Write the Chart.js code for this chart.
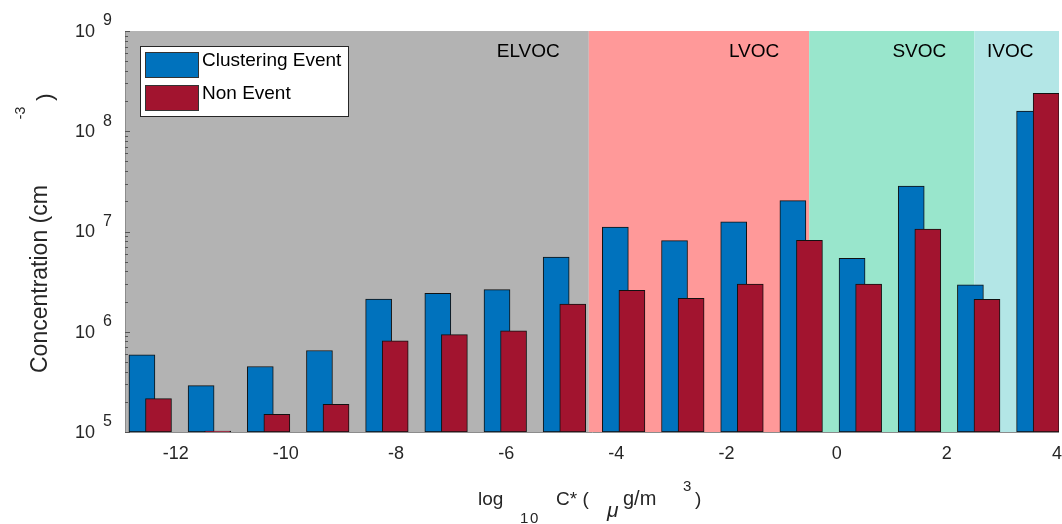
<!DOCTYPE html>
<html>
<head>
<meta charset="utf-8">
<script src="https://cdn.jsdelivr.net/npm/chart.js@4/dist/chart.umd.min.js"></script>
<style>
  html, body { margin: 0; padding: 0; background: #fff; }
  #wrap { width: 1062px; height: 524px; position: relative; }
</style>
</head>
<body>
<div id="wrap"><canvas id="chart"></canvas></div>
<script>
// Volatility bins (bar groups) and the two series
const bins = [1, 2, 3, 4, 5, 6, 7, 8, 9, 10, 11, 12, 13, 14, 15, 16];
const clusteringEvent = [5.9e5, 2.9e5, 4.5e5, 6.5e5, 2.12e6, 2.42e6, 2.63e6, 5.57e6,
                         1.11e7, 8.1e6, 1.25e7, 2.03e7, 5.4e6, 2.84e7, 2.93e6, 1.59e8];
const nonEvent = [2.15e5, 1.02e5, 1.5e5, 1.89e5, 8.1e5, 9.35e5, 1.02e6, 1.89e6,
                  2.59e6, 2.16e6, 2.99e6, 8.17e6, 2.99e6, 1.06e7, 2.11e6, 2.39e8];
const seriesNames = ['Clustering Event', 'Non Event'];

// Axis ticks
const xTickLabels = [-12, -10, -8, -6, -4, -2, 0, 2, 4];
const yTickExponents = [5, 6, 7, 8, 9];

// Volatility classes shaded behind the bars (log10 C* boundaries)
const regionNames = ['ELVOC', 'LVOC', 'SVOC', 'IVOC'];
const regionEdges = [-4.5, -0.5, 2.5];
const regionLabelAt = [-5.6, -1.5, 1.5, 3.15];

const regionColors = ['#b3b3b3', '#ff9999', '#99e6cc', '#b3e6e6'];
const seriesColors = ['#0072bd', '#a2142f'];
const TEXT = '#262626';
const FONT = "'Liberation Sans', Arial, sans-serif";
const BAR_SHIFT = 0.14;

function drawSup(ctx, base, sup, x, y, baseSize, supSize, gap, rise) {
    ctx.font = baseSize + 'px ' + FONT;
    ctx.textAlign = 'right';
    ctx.textBaseline = 'middle';
    ctx.fillText(base, x, y);
    ctx.font = supSize + 'px ' + FONT;
    ctx.textAlign = 'left';
    ctx.fillText(sup, x + gap, y - rise);
}

const backdrop = {
    id: 'backdrop',
    beforeDatasetsDraw(chart) {
        const { ctx, chartArea: a } = chart;
        const xc = chart.scales.xc;
        const edges = [a.left].concat(regionEdges.map(v => xc.getPixelForValue(v)), [a.right]);
        ctx.save();
        regionNames.forEach((name, i) => {
            ctx.fillStyle = regionColors[i];
            ctx.fillRect(edges[i], a.top, edges[i + 1] - edges[i], a.bottom - a.top);
        });
        ctx.fillStyle = '#000';
        ctx.font = '19px ' + FONT;
        ctx.textAlign = 'center';
        ctx.textBaseline = 'middle';
        regionNames.forEach((name, i) => {
            ctx.fillText(name, xc.getPixelForValue(regionLabelAt[i]), 52);
        });
        ctx.restore();
    }
};

const decorations = {
    id: 'decorations',
    afterDraw(chart) {
        const { ctx, chartArea: a } = chart;
        const xc = chart.scales.xc;
        const y = chart.scales.y;
        ctx.save();

        // axis lines
        ctx.strokeStyle = '#8c8c8c';
        ctx.lineWidth = 1;
        ctx.beginPath();
        ctx.moveTo(a.left + 0.5, a.top);
        ctx.lineTo(a.left + 0.5, a.bottom + 0.5);
        ctx.lineTo(a.right, a.bottom + 0.5);
        ctx.stroke();

        // minor ticks on the log axis
        ctx.strokeStyle = '#555';
        ctx.beginPath();
        for (let e = 5; e < 9; e++) {
            for (let m = 1; m <= 10; m++) {
                const py = Math.round(y.getPixelForValue(m * Math.pow(10, e))) + 0.5;
                const len = (m === 1 || m === 10) ? 5 : 3;
                ctx.moveTo(a.left, py);
                ctx.lineTo(a.left + len, py);
            }
        }
        ctx.stroke();

        // y tick labels 10^n
        ctx.fillStyle = TEXT;
        yTickExponents.forEach(e => {
            const py = y.getPixelForValue(Math.pow(10, e));
            drawSup(ctx, '10', String(e), 95, py + 1, 18, 16, 8, 11);
        });

        // x tick labels
        ctx.font = '18px ' + FONT;
        ctx.textAlign = 'center';
        ctx.textBaseline = 'middle';
        xTickLabels.forEach(v => {
            ctx.fillText(String(v), xc.getPixelForValue(v), 454);
        });

        // x title: log10 C* (µg/m3)
        ctx.textAlign = 'left';
        ctx.textBaseline = 'alphabetic';
        ctx.font = '19px ' + FONT;
        ctx.fillText('log', 478, 505);
        ctx.font = '15px ' + FONT;
        ctx.fillText('1', 520, 523);
        ctx.fillText('0', 530, 523);
        ctx.font = '19px ' + FONT;
        ctx.fillText('C* (', 556, 505);
        ctx.font = 'italic 21px ' + FONT;
        ctx.fillText('\u03bc', 607, 517);
        ctx.font = '20px ' + FONT;
        ctx.fillText('g/m', 623, 505);
        ctx.font = '15px ' + FONT;
        ctx.fillText('3', 683, 491);
        ctx.font = '19px ' + FONT;
        ctx.fillText(')', 695, 505);

        // y title: Concentration (cm-3)
        ctx.save();
        ctx.translate(47, 373);
        ctx.rotate(-Math.PI / 2);
        ctx.font = '23px ' + FONT;
        ctx.textAlign = 'left';
        ctx.textBaseline = 'alphabetic';
        ctx.fillText('Concentration (cm', 0, 0);
        ctx.restore();
        ctx.save();
        ctx.translate(21, 113);
        ctx.rotate(-Math.PI / 2);
        ctx.font = '14px ' + FONT;
        ctx.textAlign = 'center';
        ctx.textBaseline = 'middle';
        ctx.fillText('-3', 0, 0);
        ctx.restore();
        ctx.save();
        ctx.translate(46, 97);
        ctx.rotate(-Math.PI / 2);
        ctx.font = '22px ' + FONT;
        ctx.textAlign = 'center';
        ctx.textBaseline = 'middle';
        ctx.fillText(')', 0, 0);
        ctx.restore();

        // legend
        ctx.fillStyle = '#fff';
        ctx.fillRect(140, 46, 208, 70);
        ctx.strokeStyle = '#262626';
        ctx.strokeRect(140.5, 46.5, 208, 70);
        seriesNames.forEach((name, i) => {
            const top = 52 + i * 33;
            ctx.fillStyle = seriesColors[i];
            ctx.fillRect(145, top, 53, 25);
            ctx.strokeStyle = '#333';
            ctx.strokeRect(145.5, top + 0.5, 53, 25);
            ctx.fillStyle = '#000';
            ctx.font = '19px ' + FONT;
            ctx.textAlign = 'left';
            ctx.textBaseline = 'middle';
            ctx.fillText(name, 202, top + 8.5);
        });

        ctx.restore();
    }
};

const ctx = document.getElementById('chart').getContext('2d');
new Chart(ctx, {
    type: 'bar',
    data: {
        datasets: [
            {
                label: seriesNames[0],
                data: bins.map((b, i) => ({ x: b - BAR_SHIFT, y: clusteringEvent[i] })),
                backgroundColor: seriesColors[0],
                xAxisID: 'xb',
                yAxisID: 'y',
                order: 1
            },
            {
                label: seriesNames[1],
                data: bins.map((b, i) => ({ x: b + BAR_SHIFT, y: nonEvent[i] })),
                backgroundColor: seriesColors[1],
                xAxisID: 'xb',
                yAxisID: 'y',
                order: 0
            }
        ]
    },
    options: {
        responsive: true,
        maintainAspectRatio: false,
        animation: false,
        layout: { padding: { left: 125, right: 3, top: 31, bottom: 92 } },
        datasets: {
            bar: {
                grouped: false,
                barThickness: 26,
                borderColor: '#111',
                borderWidth: 1,
                borderSkipped: false
            }
        },
        scales: {
            xb: { type: 'linear', axis: 'x', display: false, bounds: 'data', offset: false, min: 0.574, max: 16.357 },
            xc: { type: 'linear', axis: 'x', display: false, bounds: 'data', offset: false, min: -12.92, max: 4.036 },
            y: { type: 'logarithmic', display: false, min: 1e5, max: 1e9 }
        },
        plugins: {
            legend: { display: false },
            tooltip: { enabled: false }
        }
    },
    plugins: [backdrop, decorations]
});
</script>
</body>
</html>
